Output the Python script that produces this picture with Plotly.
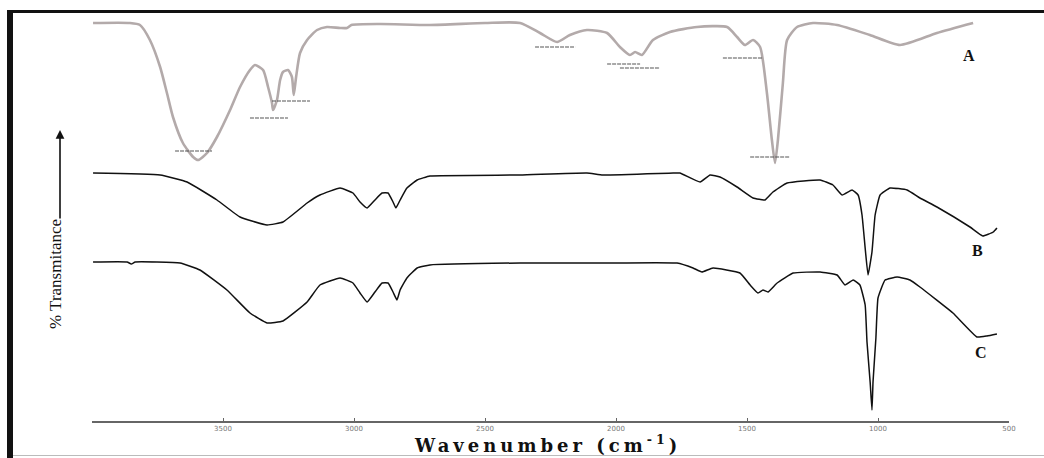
import plotly.graph_objects as go

# ---------------- data ----------------
# wavenumbers (cm-1) and relative transmittance (arbitrary, stacked units)
a_wn = [3996, 3855, 3817, 3779, 3740, 3714, 3691, 3653, 3614, 3595, 3561, 3523, 3473, 3435,
        3397, 3378, 3347, 3328, 3313, 3309, 3294, 3282, 3271, 3252, 3237, 3230, 3221, 3206,
        3179, 3141, 3103, 3053, 3027, 3010, 2900, 2710, 2500, 2366, 2290, 2225, 2176, 2111,
        2034, 1985, 1947, 1927, 1901, 1859, 1794, 1691, 1576, 1538, 1508, 1477, 1450, 1424,
        1405, 1393, 1382, 1363, 1347, 1309, 1248, 1156, 1031, 916, 775, 637]
a_t = [398, 398, 396, 381, 354, 328, 304, 278, 264, 261, 268, 284, 311, 334,
       351, 356, 351, 334, 318, 311, 321, 341, 349, 351, 344, 326, 344, 368,
       381, 391, 394, 393, 393, 396, 397, 396, 398, 398, 388, 379, 386, 391,
       388, 374, 366, 369, 366, 381, 389, 394, 394, 384, 376, 381, 374, 328,
       281, 258, 281, 338, 381, 394, 398, 396, 386, 376, 388, 398]

b_wn = [3996, 3740, 3637, 3523, 3435, 3332, 3271, 3179, 3130, 3053, 3004, 2977, 2950, 2920,
        2893, 2870, 2851, 2840, 2824, 2798, 2759, 2710, 2366, 2111, 2050, 1782, 1756, 1679,
        1641, 1603, 1538, 1477, 1431, 1401, 1347, 1221, 1172, 1137, 1099, 1076, 1061, 1049,
        1038, 1023, 1011, 992, 954, 889, 840, 775, 649, 600, 560, 546]
b_t = [248, 246, 239, 221, 204, 196, 199, 218, 226, 233, 228, 219, 213, 221,
       228, 228, 219, 213, 221, 233, 241, 245, 246, 248, 246, 248, 248, 239,
       246, 244, 234, 223, 221, 229, 238, 241, 236, 226, 231, 226, 206, 173,
       146, 169, 206, 226, 233, 231, 223, 214, 194, 185, 189, 193]

c_wn = [3996, 3866, 3850, 3835, 3664, 3588, 3485, 3397, 3332, 3271, 3179, 3130, 3053, 3004,
        2977, 2950, 2920, 2893, 2870, 2851, 2836, 2824, 2798, 2759, 2710, 2366, 2061, 1767,
        1706, 1672, 1630, 1527, 1488, 1458, 1439, 1420, 1385, 1324, 1221, 1156, 1126, 1095,
        1069, 1049, 1042, 1030, 1023, 1019, 1008, 1000, 973, 927, 878, 840, 714, 622, 584, 546]
c_t = [159, 159, 157, 159, 158, 151, 131, 108, 98, 100, 119, 136, 143, 138,
       128, 119, 129, 138, 138, 129, 121, 131, 143, 153, 156, 158, 158, 158,
       153, 149, 153, 148, 136, 128, 131, 129, 138, 148, 149, 146, 136, 141,
       136, 116, 79, 39, 11, 39, 83, 123, 141, 144, 141, 134, 108, 84, 85, 87]

# peak-marker dashes on spectrum A: (start wn, end wn, level)
mark_start = [3683, 3397, 3313, 2309, 2034, 1985, 1592, 1488]
mark_end = [3542, 3252, 3168, 2156, 1908, 1832, 1439, 1336]
mark_level = [270, 303, 320, 374, 357, 353, 363, 264]

tick_vals = [3500, 3000, 2500, 2000, 1500, 1000, 500]
tick_text = ["3500", "3000", "2500", "2000", "1500", "1000", "500"]
labels = ["A", "B", "C"]
label_wn = [653, 622, 607]
label_t = [366, 171, 69]

# ---------------- figure ----------------
fig = go.Figure()
fig.add_trace(go.Scatter(x=a_wn, y=a_t, mode="lines",
                         line=dict(color="#b3aaaa", width=2.6, shape="spline", smoothing=0.6),
                         hoverinfo="skip", showlegend=False))
fig.add_trace(go.Scatter(x=b_wn, y=b_t, mode="lines",
                         line=dict(color="#111111", width=1.5, shape="spline", smoothing=0.35),
                         hoverinfo="skip", showlegend=False))
fig.add_trace(go.Scatter(x=c_wn, y=c_t, mode="lines",
                         line=dict(color="#111111", width=1.5, shape="spline", smoothing=0.35),
                         hoverinfo="skip", showlegend=False))
for s, e, lv in zip(mark_start, mark_end, mark_level):
    fig.add_trace(go.Scatter(x=[s, e], y=[lv, lv], mode="lines",
                             line=dict(color="#555555", width=1.2, dash="4px,1px"),
                             hoverinfo="skip", showlegend=False))

for t, wx, wy in zip(labels, label_wn, label_t):
    fig.add_annotation(x=wx, y=wy, xref="x", yref="y", text=t, showarrow=False,
                       font=dict(family="Liberation Serif", size=16, color="#111", weight="bold"))

PW, PH, L, T = 917, 421, 92, 0
def px(xp):
    return (xp - L) / PW
def py(yp):
    return (T + PH - yp) / PH

# axis title
fig.add_annotation(x=px(547), y=py(444), xref="paper", yref="paper", showarrow=False,
                   text='<span style="letter-spacing:4px">Wavenumber (cm<sup>-1</sup>)</span>',
                   font=dict(family="DejaVu Serif", size=18, color="#111", weight="bold"),
                   xanchor="center", yanchor="middle")
# y title and arrow
fig.add_annotation(x=px(55), y=py(274), xref="paper", yref="paper", showarrow=False, textangle=-90,
                   text="% Transmitance", font=dict(family="Liberation Serif", size=17, color="#111"),
                   xanchor="center", yanchor="middle")
fig.add_annotation(x=px(60), y=py(130), xref="paper", yref="paper", ax=0, ay=90, text="",
                   showarrow=True, arrowhead=2, arrowsize=1.1, arrowwidth=1.6, arrowcolor="#111")

# frame
fig.add_shape(type="rect", xref="paper", yref="paper", x0=px(7), x1=px(13), y0=py(458), y1=py(10),
              fillcolor="#111", line=dict(width=0))
fig.add_shape(type="line", xref="paper", yref="paper", x0=px(7), x1=px(1044), y0=py(11.5), y1=py(11.5),
              line=dict(color="#111", width=3))
fig.add_shape(type="line", xref="paper", yref="paper", x0=px(13), x1=px(1044), y0=py(455.5), y1=py(455.5),
              line=dict(color="#bbbbbb", width=1))

fig.update_xaxes(range=[4000, 500], showgrid=False, zeroline=False, showline=True, linecolor="#666",
                 linewidth=2, ticks="inside", ticklen=3, tickcolor="#666", tickvals=tick_vals,
                 ticktext=tick_text, tickfont=dict(family="DejaVu Sans", size=7, color="#777"))
fig.update_yaxes(range=[0, 421], visible=False, showgrid=False, zeroline=False)
fig.update_layout(width=1044, height=458, margin=dict(l=L, r=1044 - L - PW, t=T, b=458 - PH - T),
                  paper_bgcolor="white", plot_bgcolor="white")

fig.write_html("out.html", config={"displayModeBar": False})
